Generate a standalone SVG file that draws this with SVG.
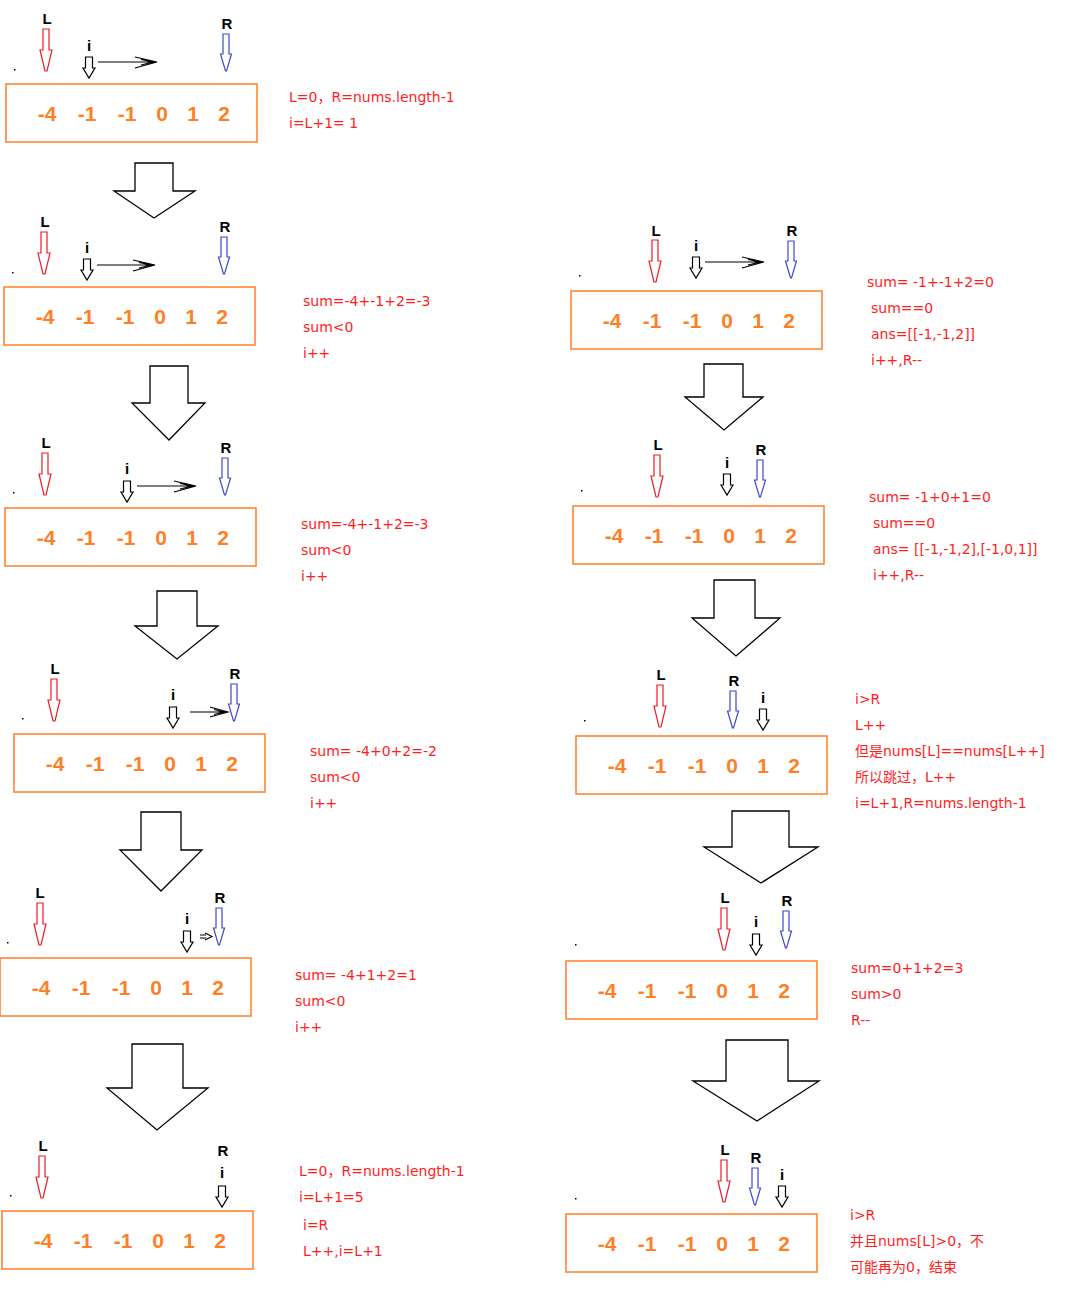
<svg xmlns="http://www.w3.org/2000/svg" xmlns:xlink="http://www.w3.org/1999/xlink" width="1081" height="1299" viewBox="0 0 1081 1299">
<style>
.box{fill:none;stroke:#ff7f27;stroke-width:1.5}
.num{font-family:"Liberation Sans",Arial,sans-serif;font-weight:bold;font-size:21px;fill:#ff7f27;text-anchor:middle}
.lbl{font-family:"Liberation Sans",Arial,sans-serif;font-weight:bold;font-size:15px;fill:#000;text-anchor:middle}
.t{font-family:"DejaVu Sans","Noto Sans CJK SC",sans-serif;font-size:14px;fill:#ff1e1e}
.pl{fill:#fff;stroke:#ed1c24;stroke-width:1.2}
.pr{fill:#fff;stroke:#3f48cc;stroke-width:1.2}
.pi{fill:#fff;stroke:#000;stroke-width:1.2}
.mv{fill:none;stroke:#000;stroke-width:1.1}
.big{fill:#fff;stroke:#000;stroke-width:1.3}
.dot{fill:#000}
</style>
<defs>
<g id="nums">
<rect class="box" x="0" y="0" width="251" height="58"/>
<text class="num" x="41" y="37">-4</text>
<text class="num" x="81" y="37">-1</text>
<text class="num" x="121" y="37">-1</text>
<text class="num" x="156" y="37">0</text>
<text class="num" x="187" y="37">1</text>
<text class="num" x="218" y="37">2</text>
</g>
<polygon id="aL" points="-3,0 3,0 3,21 6,21 1,42 -1,42 -6,21 -3,21"/>
<polygon id="aR" points="-3,0 3,0 3,20 5.5,20 0.5,37 -0.5,37 -5.5,20 -3,20"/>
<polygon id="aI" points="-3.5,0 3.5,0 3.5,11 6,11 0,21 -6,11 -3.5,11"/>
</defs>
<rect width="1081" height="1299" fill="#fff"/>

<g id="connectors">
<polygon class="big" points="135,163 173,163 173,191 195,191 154,218 114,191 135,191"/>
<polygon class="big" points="150,366 188,366 188,403 205,403 169,440 132,403 150,403"/>
<polygon class="big" points="157,591 197,591 197,626 218,626 177,659 135,626 157,626"/>
<polygon class="big" points="141,812 181,812 181,850 202,850 161,891 120,850 141,850"/>
<polygon class="big" points="132,1044 183,1044 183,1088 208,1088 157,1130 107,1088 132,1088"/>
<polygon class="big" points="704,364 743,364 743,397 763,397 724,430 685,397 704,397"/>
<polygon class="big" points="714,580 755,580 755,618 780,618 736,656 692,618 714,618"/>
<polygon class="big" points="732,811 789,811 789,847 818,847 761,883 704,847 732,847"/>
<polygon class="big" points="726,1040 788,1040 788,1081 819,1081 757,1121 693,1081 726,1081"/>
</g>

<g id="p1">
<use xlink:href="#nums" x="6" y="84"/>
<rect class="dot" x="14" y="69" width="1.5" height="1.5"/>
<text class="lbl" x="47" y="24">L</text><use xlink:href="#aL" class="pl" transform="translate(46,29)"/>
<text class="lbl" x="89" y="51">i</text><use xlink:href="#aI" class="pi" transform="translate(89,57)"/>
<path class="mv" d="M98,62H157M135,57L157,62L135,68M141,59.5L153,62L141,65"/>
<text class="lbl" x="227" y="29">R</text><use xlink:href="#aR" class="pr" transform="translate(226,34)"/>
<text class="t" x="289" y="102">L=0，R=nums.length-1</text>
<text class="t" x="289" y="128">i=L+1= 1</text>
</g>

<g id="p2">
<use xlink:href="#nums" x="4" y="287"/>
<rect class="dot" x="12" y="272" width="1.5" height="1.5"/>
<text class="lbl" x="45" y="227">L</text><use xlink:href="#aL" class="pl" transform="translate(44,232)"/>
<text class="lbl" x="87" y="253">i</text><use xlink:href="#aI" class="pi" transform="translate(87,259)"/>
<path class="mv" d="M97,265H155M133,260L155,265L133,271M139,262.5L151,265L139,268"/>
<text class="lbl" x="225" y="232">R</text><use xlink:href="#aR" class="pr" transform="translate(224,237)"/>
<text class="t" x="303" y="306">sum=-4+-1+2=-3</text>
<text class="t" x="303" y="332">sum&lt;0</text>
<text class="t" x="303" y="358">i++</text>
</g>

<g id="p3">
<use xlink:href="#nums" x="5" y="508"/>
<rect class="dot" x="13" y="492" width="1.5" height="1.5"/>
<text class="lbl" x="46" y="448">L</text><use xlink:href="#aL" class="pl" transform="translate(45,453)"/>
<text class="lbl" x="127" y="474">i</text><use xlink:href="#aI" class="pi" transform="translate(127,481)"/>
<path class="mv" d="M137,486H196M174,481L196,486L174,492M180,483.5L192,486L180,489"/>
<text class="lbl" x="226" y="453">R</text><use xlink:href="#aR" class="pr" transform="translate(225,458)"/>
<text class="t" x="301" y="529">sum=-4+-1+2=-3</text>
<text class="t" x="301" y="555">sum&lt;0</text>
<text class="t" x="301" y="581">i++</text>
</g>

<g id="p4">
<use xlink:href="#nums" x="14" y="734"/>
<rect class="dot" x="22" y="718" width="1.5" height="1.5"/>
<text class="lbl" x="55" y="674">L</text><use xlink:href="#aL" class="pl" transform="translate(54,679)"/>
<text class="lbl" x="173" y="700">i</text><use xlink:href="#aI" class="pi" transform="translate(173,707)"/>
<path class="mv" d="M190,712H228M210,707L228,712L210,717M214,709.5L224,712L214,714.5"/>
<text class="lbl" x="235" y="679">R</text><use xlink:href="#aR" class="pr" transform="translate(234,684)"/>
<text class="t" x="310" y="756">sum= -4+0+2=-2</text>
<text class="t" x="310" y="782">sum&lt;0</text>
<text class="t" x="310" y="808">i++</text>
</g>

<g id="p5">
<use xlink:href="#nums" x="0" y="958"/>
<rect class="dot" x="7" y="942" width="1.5" height="1.5"/>
<text class="lbl" x="40" y="898">L</text><use xlink:href="#aL" class="pl" transform="translate(40,903)"/>
<text class="lbl" x="187" y="924">i</text><use xlink:href="#aI" class="pi" transform="translate(187,931)"/>
<path class="mv" d="M200,935H206M200,938H206M205,933L212,936.5L205,940"/>
<text class="lbl" x="220" y="903">R</text><use xlink:href="#aR" class="pr" transform="translate(219,908)"/>
<text class="t" x="295" y="980">sum= -4+1+2=1</text>
<text class="t" x="295" y="1006">sum&lt;0</text>
<text class="t" x="295" y="1032">i++</text>
</g>

<g id="p6">
<use xlink:href="#nums" x="2" y="1211"/>
<rect class="dot" x="10" y="1195" width="1.5" height="1.5"/>
<text class="lbl" x="43" y="1151">L</text><use xlink:href="#aL" class="pl" transform="translate(42,1156)"/>
<text class="lbl" x="223" y="1156">R</text>
<text class="lbl" x="222" y="1178">i</text><use xlink:href="#aI" class="pi" transform="translate(222,1186)"/>
<text class="t" x="299" y="1176">L=0，R=nums.length-1</text>
<text class="t" x="299" y="1202">i=L+1=5</text>
<text class="t" x="303" y="1230">i=R</text>
<text class="t" x="303" y="1256">L++,i=L+1</text>
</g>

<g id="p7">
<use xlink:href="#nums" x="571" y="291"/>
<rect class="dot" x="579" y="275" width="1.5" height="1.5"/>
<text class="lbl" x="656" y="236">L</text><use xlink:href="#aL" class="pl" transform="translate(655,240)"/>
<text class="lbl" x="696" y="251">i</text><use xlink:href="#aI" class="pi" transform="translate(696,257)"/>
<path class="mv" d="M705,262H764M742,257L764,262L742,268M748,259.5L760,262L748,265"/>
<text class="lbl" x="792" y="236">R</text><use xlink:href="#aR" class="pr" transform="translate(791,241)"/>
<text class="t" x="867" y="287">sum= -1+-1+2=0</text>
<text class="t" x="871" y="313">sum==0</text>
<text class="t" x="871" y="339">ans=[[-1,-1,2]]</text>
<text class="t" x="871" y="365">i++,R--</text>
</g>

<g id="p8">
<use xlink:href="#nums" x="573" y="506"/>
<rect class="dot" x="581" y="490" width="1.5" height="1.5"/>
<text class="lbl" x="658" y="450">L</text><use xlink:href="#aL" class="pl" transform="translate(657,455)"/>
<text class="lbl" x="727" y="468">i</text><use xlink:href="#aI" class="pi" transform="translate(727,474)"/>
<text class="lbl" x="761" y="455">R</text><use xlink:href="#aR" class="pr" transform="translate(760,460)"/>
<text class="t" x="869" y="502">sum= -1+0+1=0</text>
<text class="t" x="873" y="528">sum==0</text>
<text class="t" x="873" y="554">ans= [[-1,-1,2],[-1,0,1]]</text>
<text class="t" x="873" y="580">i++,R--</text>
</g>

<g id="p9">
<use xlink:href="#nums" x="576" y="736"/>
<rect class="dot" x="584" y="720" width="1.5" height="1.5"/>
<text class="lbl" x="661" y="680">L</text><use xlink:href="#aL" class="pl" transform="translate(660,685)"/>
<text class="lbl" x="734" y="686">R</text><use xlink:href="#aR" class="pr" transform="translate(733,691)"/>
<text class="lbl" x="763" y="703">i</text><use xlink:href="#aI" class="pi" transform="translate(763,709)"/>
<text class="t" x="855" y="704">i&gt;R</text>
<text class="t" x="855" y="730">L++</text>
<text class="t" x="855" y="756">但是nums[L]==nums[L++]</text>
<text class="t" x="855" y="782">所以跳过，L++</text>
<text class="t" x="855" y="808">i=L+1,R=nums.length-1</text>
</g>

<g id="p10">
<use xlink:href="#nums" x="566" y="961"/>
<rect class="dot" x="575" y="944" width="1.5" height="1.5"/>
<text class="lbl" x="725" y="903">L</text><use xlink:href="#aL" class="pl" transform="translate(724,908)"/>
<text class="lbl" x="756" y="927">i</text><use xlink:href="#aI" class="pi" transform="translate(756,934)"/>
<text class="lbl" x="787" y="906">R</text><use xlink:href="#aR" class="pr" transform="translate(786,911)"/>
<text class="t" x="851" y="973">sum=0+1+2=3</text>
<text class="t" x="851" y="999">sum&gt;0</text>
<text class="t" x="851" y="1025">R--</text>
</g>

<g id="p11">
<use xlink:href="#nums" x="566" y="1214"/>
<rect class="dot" x="575" y="1198" width="1.5" height="1.5"/>
<text class="lbl" x="725" y="1155">L</text><use xlink:href="#aL" class="pl" transform="translate(724,1160)"/>
<text class="lbl" x="756" y="1163">R</text><use xlink:href="#aR" class="pr" transform="translate(755,1168)"/>
<text class="lbl" x="782" y="1180">i</text><use xlink:href="#aI" class="pi" transform="translate(782,1186)"/>
<text class="t" x="850" y="1220">i&gt;R</text>
<text class="t" x="850" y="1246">并且nums[L]&gt;0，不</text>
<text class="t" x="850" y="1272">可能再为0，结束</text>
</g>
</svg>
